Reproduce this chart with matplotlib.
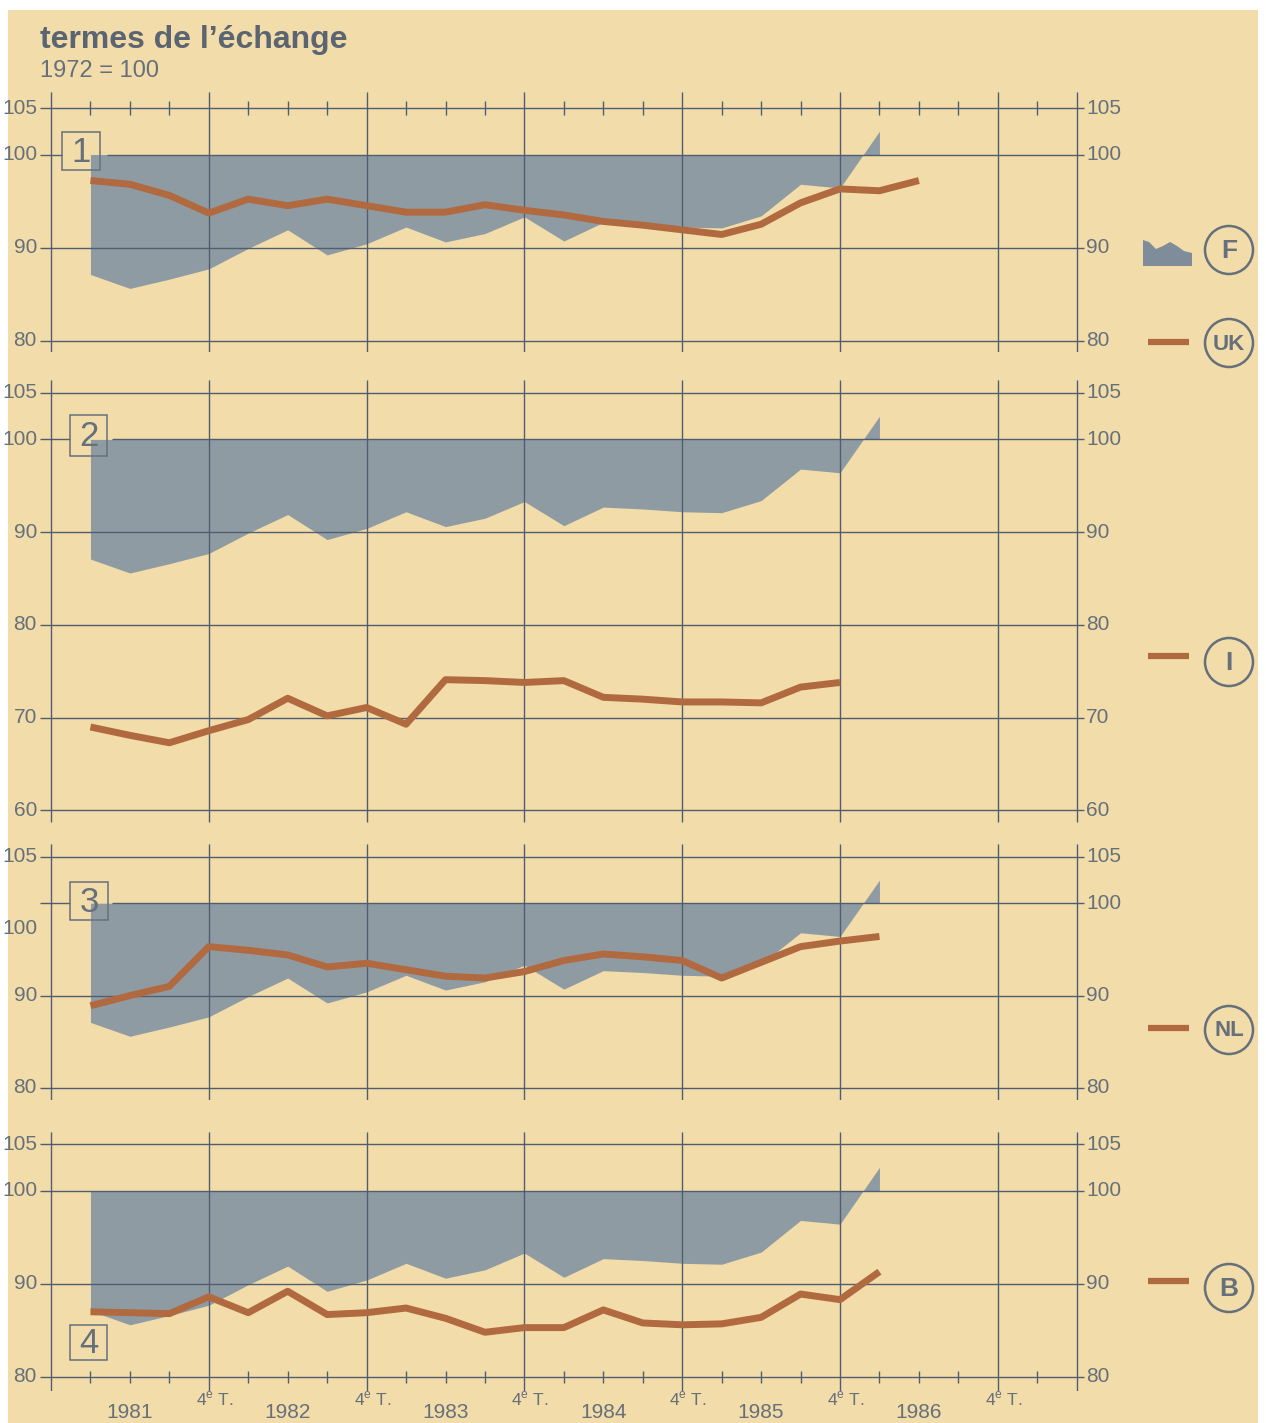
import matplotlib
matplotlib.use("Agg")
import matplotlib.pyplot as plt
import numpy as np
from matplotlib.patches import Rectangle, Circle, Polygon

plt.rcParams['font.family'] = ['Liberation Sans', 'DejaVu Sans']
plt.rcParams['mathtext.fontset'] = 'custom'
plt.rcParams['mathtext.rm'] = 'Liberation Sans'

# ---- data: terms of trade, quarterly, 1972 = 100 (quarter 1 = 1981 1er T.) ----
france = [87.1, 85.6, 86.6, 87.7, 89.9, 91.9, 89.2, 90.4, 92.2, 90.6, 91.5,
          93.3, 90.7, 92.7, 92.5, 92.2, 92.1, 93.4, 96.8, 96.4, 102.5]
royaume_uni = [97.2, 96.8, 95.6, 93.7, 95.2, 94.5, 95.2, 94.5, 93.8, 93.8, 94.6,
               94.0, 93.5, 92.8, 92.4, 91.9, 91.4, 92.5, 94.8, 96.3, 96.1, 97.2]
italie = [69.0, 68.1, 67.3, 68.6, 69.8, 72.1, 70.2, 71.1, 69.3, 74.1,
          74.0, 73.8, 74.0, 72.2, 72.0, 71.7, 71.7, 71.6, 73.3, 73.8]
pays_bas = [88.9, 90.0, 91.0, 95.3, 94.9, 94.4, 93.1, 93.5, 92.8, 92.1, 91.9,
            92.6, 93.8, 94.5, 94.2, 93.8, 91.9, 93.6, 95.3, 95.9, 96.4]
belgique = [87.0, 86.9, 86.8, 88.6, 86.9, 89.2, 86.7, 86.9, 87.4, 86.3, 84.8,
            85.3, 85.3, 87.2, 85.8, 85.6, 85.7, 86.4, 88.9, 88.3, 91.3]

years = ["1981", "1982", "1983", "1984", "1985", "1986"]
ticks_short = [105, 100, 90, 80]
ticks_long = [105, 100, 90, 80, 70, 60]
codes = ["F", "UK", "I", "NL", "B"]

# ---- styling ----
W, H = 1266, 1423
PAPER = "#f2dca9"
GRID = "#4f5e70"
FILL = "#8f9ba3"
BROWN = "#b16a3f"
TXT = "#66707b"
TITLE = "#5b6572"

X0_PX, Q_PX = 51.0, 39.45          # pixel of quarter 0 and pixel width of a quarter
LEFT_PX, RIGHT_PX = 38, 1090
N_Q = 26                          # right frame at quarter 26


def q_of(px):
    return (px - X0_PX) / Q_PX


fig = plt.figure(figsize=(W / 100, H / 100), dpi=100, facecolor="white")

bg = fig.add_axes([0, 0, 1, 1], zorder=-10)
bg.set_xlim(0, W)
bg.set_ylim(H, 0)
bg.axis("off")
bg.add_patch(Rectangle((8, 10), 1250, H - 10, color=PAPER, lw=0))

fg = fig.add_axes([0, 0, 1, 1], zorder=10)
fg.set_xlim(0, W)
fg.set_ylim(H, 0)
fg.axis("off")


def make_panel(ytop_px, ybot_px, vtop, vbot, pad_top, pad_bot):
    ppu = (ybot_px - ytop_px) / (vtop - vbot)
    a_top, a_bot = ytop_px - pad_top, ybot_px + pad_bot
    ax = fig.add_axes([LEFT_PX / W, 1 - a_bot / H,
                       (RIGHT_PX - LEFT_PX) / W, (a_bot - a_top) / H])
    ax.set_xlim(q_of(LEFT_PX), q_of(RIGHT_PX))
    ax.set_ylim(vbot - pad_bot / ppu, vtop + pad_top / ppu)
    ax.axis("off")
    return ax, ppu


def draw_panel(ax, ticks, box_gap=None, left_label_pos=None):
    y0, y1 = ax.get_ylim()
    # quarter-4 verticals plus left and right frames
    for q in [0, 4, 8, 12, 16, 20, 24, N_Q]:
        ax.vlines(q, y0, y1, color=GRID, lw=1.0, zorder=2)
    for v in ticks:
        if v == 100 and box_gap is not None:
            ax.hlines(v, q_of(40), q_of(box_gap[0]), color=GRID, lw=1.0, zorder=2)
            ax.hlines(v, q_of(box_gap[1]), q_of(1084), color=GRID, lw=1.0, zorder=2)
        else:
            ax.hlines(v, q_of(40), q_of(1084), color=GRID, lw=1.0, zorder=2)
        lv = v
        if left_label_pos and v in left_label_pos:
            lv = left_label_pos[v]
        ax.text(q_of(37), lv, str(v), ha="right", va="center",
                fontsize=15, color=TXT)
        ax.text(q_of(1086), v, str(v), ha="left", va="center",
                fontsize=15, color=TXT)


def quarter_ticks(ax, v, half):
    qs = [q for q in range(1, N_Q) if q % 4 != 0]
    ax.vlines(qs, v - half, v + half, color=GRID, lw=1.0, zorder=2)


def france_fill(ax):
    xf = np.arange(1, len(france) + 1)
    ax.fill_between(xf, france, 100, color=FILL, lw=0, zorder=1)


def brown_line(ax, values):
    xs = np.arange(1, len(values) + 1)
    ax.plot(xs, values, color=BROWN, lw=5, solid_joinstyle="round",
            solid_capstyle="butt", zorder=3)


# panel 1 : France & Royaume-Uni
ax1, p1 = make_panel(108, 340.5, 105, 80, 16, 11)
france_fill(ax1)
draw_panel(ax1, ticks_short, box_gap=(62, 107))
quarter_ticks(ax1, 105, 0.7)
brown_line(ax1, royaume_uni)

# panel 2 : France & Italie
ax2, p2 = make_panel(393, 810.5, 105, 60, 13, 12)
france_fill(ax2)
draw_panel(ax2, ticks_long, box_gap=(70, 112))
brown_line(ax2, italie)

# panel 3 : France & Pays-Bas
ax3, p3 = make_panel(857, 1088, 105, 80, 13, 12)
france_fill(ax3)
draw_panel(ax3, ticks_short, box_gap=(70, 112), left_label_pos={100: 97.3})
brown_line(ax3, pays_bas)

# panel 4 : France & Belgique
ax4, p4 = make_panel(1144, 1377, 105, 80, 12, 14)
france_fill(ax4)
draw_panel(ax4, ticks_short)
quarter_ticks(ax4, 80, 0.6)
brown_line(ax4, belgique)

# time axis labels
for i, yr in enumerate(years):
    ax4.text(2 + 4 * i, 80 - 36 / p4, yr, ha="center", va="center",
             fontsize=15, color=TXT)
    ax4.text(4 + 4 * i + 0.15, 80 - 22 / p4, r"4$^{\mathrm{e}}$ T.",
             ha="center", va="center", fontsize=12.5, color=TXT)

# numbered boxes
for (x, y, w, h, lab) in [(62, 132, 38, 38, "1"), (70, 415, 37, 41, "2"),
                          (70, 882, 38, 38, "3"), (70, 1325, 37, 35, "4")]:
    fg.add_patch(Rectangle((x, y), w, h, fill=False, ec=TXT, lw=1.1))
    fg.text(x + w / 2, y + h / 2 + 1, lab, ha="center", va="center",
            fontsize=25, color=TXT)

# title
fg.text(40, 40, "termes de l\u2019\u00e9change", ha="left", va="center",
        fontsize=23, fontweight="bold", color=TITLE)
fg.text(40, 71, "1972 = 100", ha="left", va="center", fontsize=17, color=TXT)

# key on the right
fg.add_patch(Polygon([(1143, 240), (1149, 242), (1156, 249), (1163, 246),
                      (1170, 242), (1177, 246), (1184, 251), (1192, 253),
                      (1192, 266), (1143, 266)], closed=True, color="#7f8c99", lw=0))
key_rows = [(250, 250), (342, 343), (656, 662), (1028, 1030), (1281, 1288)]
for code, (dash_y, circ_y) in zip(codes, key_rows):
    if code != "F":
        fg.plot([1148, 1189], [dash_y, dash_y], color=BROWN, lw=4.5,
                solid_capstyle="butt")
    fg.add_patch(Circle((1229, circ_y), 24, fill=False, ec=TXT, lw=1.8))
    fg.text(1229, circ_y + 1, code, ha="center", va="center",
            fontsize=19 if len(code) == 1 else 16, fontweight="bold", color=TXT)

fig.savefig("out.png", dpi=100, facecolor="white")
